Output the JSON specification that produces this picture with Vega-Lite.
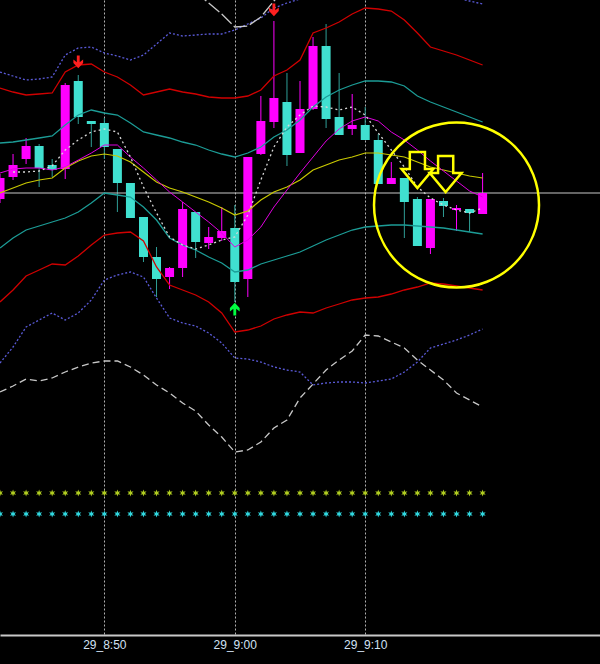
{
  "$schema": "https://vega.github.io/schema/vega-lite/v6.json",
  "width": 600,
  "height": 635,
  "autosize": {"type": "none"},
  "padding": {"left": 0, "top": 0, "right": 0, "bottom": 29},
  "background": "#000000",
  "config": {"view": {"stroke": null}},
  "datasets": {
    "candles": [
      {"t": "2024-01-29T08:42:00", "o": 436, "h": 461, "l": 432, "c": 457},
      {"t": "2024-01-29T08:43:00", "o": 458, "h": 481, "l": 455, "c": 470},
      {"t": "2024-01-29T08:44:00", "o": 476, "h": 497, "l": 471, "c": 489},
      {"t": "2024-01-29T08:45:00", "o": 489, "h": 491, "l": 448, "c": 467},
      {"t": "2024-01-29T08:46:00", "o": 470, "h": 476, "l": 458, "c": 465},
      {"t": "2024-01-29T08:47:00", "o": 466, "h": 552, "l": 456, "c": 550},
      {"t": "2024-01-29T08:48:00", "o": 554, "h": 560, "l": 511, "c": 518},
      {"t": "2024-01-29T08:49:00", "o": 514, "h": 514, "l": 488, "c": 511},
      {"t": "2024-01-29T08:50:00", "o": 512, "h": 517, "l": 476, "c": 488},
      {"t": "2024-01-29T08:51:00", "o": 486, "h": 486, "l": 423, "c": 452},
      {"t": "2024-01-29T08:52:00", "o": 452, "h": 452, "l": 417, "c": 417},
      {"t": "2024-01-29T08:53:00", "o": 418, "h": 418, "l": 373, "c": 378},
      {"t": "2024-01-29T08:54:00", "o": 378, "h": 388, "l": 338, "c": 356},
      {"t": "2024-01-29T08:55:00", "o": 358, "h": 368, "l": 346, "c": 367},
      {"t": "2024-01-29T08:56:00", "o": 367, "h": 433, "l": 358, "c": 426},
      {"t": "2024-01-29T08:57:00", "o": 423, "h": 423, "l": 377, "c": 393},
      {"t": "2024-01-29T08:58:00", "o": 392, "h": 408, "l": 386, "c": 398},
      {"t": "2024-01-29T08:59:00", "o": 397, "h": 428, "l": 394, "c": 404},
      {"t": "2024-01-29T09:00:00", "o": 407, "h": 430, "l": 333, "c": 353},
      {"t": "2024-01-29T09:01:00", "o": 356, "h": 478, "l": 338, "c": 478},
      {"t": "2024-01-29T09:02:00", "o": 481, "h": 539, "l": 480, "c": 514},
      {"t": "2024-01-29T09:03:00", "o": 513, "h": 614, "l": 507, "c": 537},
      {"t": "2024-01-29T09:04:00", "o": 533, "h": 562, "l": 469, "c": 480},
      {"t": "2024-01-29T09:05:00", "o": 482, "h": 554, "l": 482, "c": 526},
      {"t": "2024-01-29T09:06:00", "o": 526, "h": 598, "l": 525, "c": 589},
      {"t": "2024-01-29T09:07:00", "o": 589, "h": 611, "l": 507, "c": 516},
      {"t": "2024-01-29T09:08:00", "o": 518, "h": 562, "l": 500, "c": 500},
      {"t": "2024-01-29T09:09:00", "o": 506, "h": 541, "l": 500, "c": 510},
      {"t": "2024-01-29T09:10:00", "o": 510, "h": 528, "l": 495, "c": 495},
      {"t": "2024-01-29T09:11:00", "o": 495, "h": 501, "l": 451, "c": 451},
      {"t": "2024-01-29T09:12:00", "o": 451, "h": 473, "l": 451, "c": 457},
      {"t": "2024-01-29T09:13:00", "o": 457, "h": 457, "l": 397, "c": 433},
      {"t": "2024-01-29T09:14:00", "o": 436, "h": 438, "l": 389, "c": 389},
      {"t": "2024-01-29T09:15:00", "o": 387, "h": 436, "l": 381, "c": 436},
      {"t": "2024-01-29T09:16:00", "o": 434, "h": 437, "l": 418, "c": 429},
      {"t": "2024-01-29T09:17:00", "o": 425, "h": 430, "l": 404, "c": 427},
      {"t": "2024-01-29T09:18:00", "o": 426, "h": 426, "l": 403, "c": 422},
      {"t": "2024-01-29T09:19:00", "o": 421, "h": 462, "l": 421, "c": 442}
    ],
    "ind": [
      {"t": "2024-01-29T08:42:00", "ru": 547, "rl": 333, "tu": 492, "tl": 387, "ma": 462, "ya": 442, "bu": 563, "bl": 272, "dl": 243},
      {"t": "2024-01-29T08:43:00", "ru": 543, "rl": 345, "tu": 493, "tl": 397, "ma": 466, "ya": 447, "wd": 463, "bu": 559, "bl": 288, "dl": 249},
      {"t": "2024-01-29T08:44:00", "ru": 540, "rl": 359, "tu": 495, "tl": 405, "ma": 467, "ya": 452, "wd": 463, "bu": 555, "bl": 308, "dl": 256},
      {"t": "2024-01-29T08:45:00", "ru": 541, "rl": 365, "tu": 497, "tl": 409, "ma": 467, "ya": 455, "wd": 464, "bu": 556, "bl": 315, "dl": 254},
      {"t": "2024-01-29T08:46:00", "ru": 542, "rl": 371, "tu": 499, "tl": 413, "ma": 465, "ya": 457, "wd": 469, "bu": 558, "bl": 322, "dl": 257},
      {"t": "2024-01-29T08:47:00", "ru": 563, "rl": 370, "tu": 510, "tl": 417, "ma": 468, "ya": 467, "wd": 485, "bu": 580, "bl": 315, "dl": 263},
      {"t": "2024-01-29T08:48:00", "ru": 570, "rl": 379, "tu": 520, "tl": 423, "ma": 475, "ya": 474, "wd": 495, "bu": 587, "bl": 322, "dl": 268},
      {"t": "2024-01-29T08:49:00", "ru": 571, "rl": 390, "tu": 525, "tl": 432, "ma": 482, "ya": 479, "wd": 503, "bu": 588, "bl": 335, "dl": 272},
      {"t": "2024-01-29T08:50:00", "ru": 563, "rl": 400, "tu": 522, "tl": 442, "ma": 490, "ya": 481, "wd": 506, "bu": 582, "bl": 355, "dl": 274},
      {"t": "2024-01-29T08:51:00", "ru": 558, "rl": 402, "tu": 520, "tl": 440, "ma": 490, "ya": 479, "wd": 503, "bu": 579, "bl": 360, "dl": 274},
      {"t": "2024-01-29T08:52:00", "ru": 550, "rl": 403, "tu": 512, "tl": 438, "ma": 478, "ya": 473, "wd": 478, "bu": 575, "bl": 363, "dl": 268},
      {"t": "2024-01-29T08:53:00", "ru": 540, "rl": 394, "tu": 503, "tl": 428, "ma": 467, "ya": 463, "wd": 448, "bu": 580, "bl": 358, "dl": 260},
      {"t": "2024-01-29T08:54:00", "ru": 543, "rl": 368, "tu": 500, "tl": 415, "ma": 455, "ya": 453, "wd": 422, "bu": 591, "bl": 337, "dl": 250},
      {"t": "2024-01-29T08:55:00", "ru": 546, "rl": 350, "tu": 497, "tl": 397, "ma": 443, "ya": 447, "wd": 398, "bu": 602, "bl": 317, "dl": 242},
      {"t": "2024-01-29T08:56:00", "ru": 543, "rl": 345, "tu": 493, "tl": 390, "ma": 433, "ya": 443, "wd": 390, "bu": 599, "bl": 312, "dl": 232},
      {"t": "2024-01-29T08:57:00", "ru": 541, "rl": 340, "tu": 490, "tl": 385, "ma": 423, "ya": 438, "wd": 386, "bu": 600, "bl": 309, "dl": 224, "du": 643},
      {"t": "2024-01-29T08:58:00", "ru": 538, "rl": 333, "tu": 485, "tl": 378, "ma": 413, "ya": 433, "wd": 390, "bu": 601, "bl": 302, "dl": 210, "du": 632},
      {"t": "2024-01-29T08:59:00", "ru": 537, "rl": 322, "tu": 481, "tl": 372, "ma": 402, "ya": 427, "wd": 395, "bu": 601, "bl": 292, "dl": 198, "du": 621},
      {"t": "2024-01-29T09:00:00", "ru": 537, "rl": 303, "tu": 478, "tl": 363, "ma": 388, "ya": 420, "wd": 398, "bu": 605, "bl": 277, "dl": 183, "du": 608},
      {"t": "2024-01-29T09:01:00", "ru": 539, "rl": 305, "tu": 482, "tl": 365, "ma": 395, "ya": 424, "wd": 420, "bu": 611, "bl": 276, "dl": 185, "du": 609},
      {"t": "2024-01-29T09:02:00", "ru": 545, "rl": 309, "tu": 488, "tl": 371, "ma": 408, "ya": 435, "wd": 455, "bu": 617, "bl": 273, "dl": 193, "du": 618},
      {"t": "2024-01-29T09:03:00", "ru": 559, "rl": 316, "tu": 498, "tl": 375, "ma": 428, "ya": 443, "wd": 488, "bu": 627, "bl": 268, "dl": 207, "du": 634},
      {"t": "2024-01-29T09:04:00", "ru": 565, "rl": 320, "tu": 505, "tl": 379, "ma": 445, "ya": 448, "wd": 508, "bu": 632, "bl": 265, "dl": 215, "du": 648},
      {"t": "2024-01-29T09:05:00", "ru": 575, "rl": 323, "tu": 515, "tl": 383, "ma": 462, "ya": 455, "wd": 520, "bu": 636, "bl": 263, "dl": 237},
      {"t": "2024-01-29T09:06:00", "ru": 602, "rl": 322, "tu": 528, "tl": 389, "ma": 478, "ya": 465, "wd": 529, "bu": 648, "bl": 250, "dl": 251},
      {"t": "2024-01-29T09:07:00", "ru": 607, "rl": 327, "tu": 538, "tl": 395, "ma": 494, "ya": 470, "wd": 528, "bu": 659, "bl": 252, "dl": 265},
      {"t": "2024-01-29T09:08:00", "ru": 613, "rl": 331, "tu": 545, "tl": 400, "ma": 506, "ya": 475, "wd": 525, "bu": 665, "bl": 253, "dl": 275},
      {"t": "2024-01-29T09:09:00", "ru": 621, "rl": 335, "tu": 550, "tl": 405, "ma": 514, "ya": 478, "wd": 528, "bu": 670, "bl": 253, "dl": 284},
      {"t": "2024-01-29T09:10:00", "ru": 627, "rl": 337, "tu": 554, "tl": 408, "ma": 518, "ya": 482, "wd": 520, "bu": 673, "bl": 252, "dl": 300},
      {"t": "2024-01-29T09:11:00", "ru": 626, "rl": 338, "tu": 554, "tl": 409, "ma": 514, "ya": 482, "wd": 502, "bu": 673, "bl": 254, "dl": 299},
      {"t": "2024-01-29T09:12:00", "ru": 624, "rl": 341, "tu": 553, "tl": 410, "ma": 503, "ya": 480, "wd": 485, "bu": 670, "bl": 256, "dl": 293},
      {"t": "2024-01-29T09:13:00", "ru": 615, "rl": 345, "tu": 549, "tl": 410, "ma": 495, "ya": 478, "wd": 468, "bu": 663, "bl": 263, "dl": 287},
      {"t": "2024-01-29T09:14:00", "ru": 602, "rl": 348, "tu": 539, "tl": 409, "ma": 485, "ya": 473, "wd": 448, "bu": 655, "bl": 273, "dl": 275},
      {"t": "2024-01-29T09:15:00", "ru": 588, "rl": 352, "tu": 533, "tl": 408, "ma": 474, "ya": 468, "wd": 437, "bu": 648, "bl": 287, "dl": 265},
      {"t": "2024-01-29T09:16:00", "ru": 584, "rl": 351, "tu": 528, "tl": 407, "ma": 464, "ya": 465, "wd": 430, "bu": 642, "bl": 291, "dl": 255},
      {"t": "2024-01-29T09:17:00", "ru": 580, "rl": 349, "tu": 523, "tl": 405, "ma": 454, "ya": 462, "wd": 425, "bu": 637, "bl": 295, "dl": 242},
      {"t": "2024-01-29T09:18:00", "ru": 575, "rl": 347, "tu": 518, "tl": 403, "ma": 444, "ya": 459, "wd": 422, "bu": 634, "bl": 300, "dl": 235},
      {"t": "2024-01-29T09:19:00", "ru": 570, "rl": 345, "tu": 513, "tl": 401, "ma": 438, "ya": 457, "wd": 427, "bu": 631, "bl": 306, "dl": 228}
    ],
    "levels": [
      {"name": "current", "p": 442}
    ],
    "signals": [
      {"t": "2024-01-29T08:48:00", "p": 573, "dir": "sell"},
      {"t": "2024-01-29T09:03:00", "p": 625, "dir": "sell"},
      {"t": "2024-01-29T09:00:00", "p": 326, "dir": "buy"}
    ],
    "notes": [
      {"t": "2024-01-29T09:17:00", "p": 430}
    ],
    "pointers": [
      {"t": "2024-01-29T09:14:00", "p": 465},
      {"t": "2024-01-29T09:16:10", "p": 461}
    ]
  },
  "layer": [
    {
      "data": {"name": "candles"},
      "mark": {"type": "rule", "strokeWidth": 1},
      "encoding": {
        "x": {
          "field": "t",
          "type": "temporal",
          "scale": {
            "domain": [
              {"year": 2024, "month": 1, "date": 29, "hours": 8, "minutes": 42},
              {"year": 2024, "month": 1, "date": 29, "hours": 9, "minutes": 28}
            ],
            "nice": false,
            "padding": 0
          },
          "axis": {
            "orient": "bottom",
            "values": [
              {"year": 2024, "month": 1, "date": 29, "hours": 8, "minutes": 50},
              {"year": 2024, "month": 1, "date": 29, "hours": 9, "minutes": 0},
              {"year": 2024, "month": 1, "date": 29, "hours": 9, "minutes": 10}
            ],
            "title": null,
            "grid": true,
            "gridColor": "#b0b0b0",
            "gridDash": [2, 2],
            "gridWidth": 1,
            "ticks": false,
            "domain": true,
            "domainColor": "#c8c8c8",
            "domainWidth": 2,
            "labelColor": "#d2e2f4",
            "labelFont": "Liberation Sans",
            "labelFontSize": 12,
            "labelPadding": 4,
            "labelFlush": false,
            "labelExpr": "'29_' + timeFormat(datum.value, '%-H:%M')"
          }
        },
        "y": {"field": "l", "type": "quantitative", "scale": {"domain": [0, 635], "nice": false, "zero": false, "padding": 0}, "axis": null},
        "y2": {"field": "h"},
        "color": {"condition": {"test": "datum.c > datum.o", "value": "#ff00ff"}, "value": "#2f9e96"}
      }
    },
    {
      "data": {"name": "levels"},
      "mark": {"type": "rule", "color": "#c8c8c8", "strokeWidth": 1},
      "encoding": {"y": {"field": "p", "type": "quantitative"}}
    },
    {
      "data": {"name": "candles"},
      "mark": {"type": "bar", "size": 9},
      "encoding": {
        "x": {"field": "t", "type": "temporal"},
        "y": {"field": "o", "type": "quantitative"},
        "y2": {"field": "c"},
        "color": {"condition": {"test": "datum.c > datum.o", "value": "#ff00ff"}, "value": "#40e0d0"}
      }
    },
    {
      "data": {"name": "ind"},
      "mark": {"type": "line", "color": "#d00000", "strokeWidth": 1.3, "clip": true},
      "encoding": {"x": {"field": "t", "type": "temporal"}, "y": {"field": "ru", "type": "quantitative"}}
    },
    {
      "data": {"name": "ind"},
      "mark": {"type": "line", "color": "#d00000", "strokeWidth": 1.3, "clip": true},
      "encoding": {"x": {"field": "t", "type": "temporal"}, "y": {"field": "rl", "type": "quantitative"}}
    },
    {
      "data": {"name": "ind"},
      "mark": {"type": "line", "color": "#5a5ad8", "strokeWidth": 1.3, "strokeDash": [2, 2], "clip": true},
      "encoding": {"x": {"field": "t", "type": "temporal"}, "y": {"field": "bu", "type": "quantitative"}}
    },
    {
      "data": {"name": "ind"},
      "mark": {"type": "line", "color": "#5a5ad8", "strokeWidth": 1.3, "strokeDash": [2, 2], "clip": true},
      "encoding": {"x": {"field": "t", "type": "temporal"}, "y": {"field": "bl", "type": "quantitative"}}
    },
    {
      "data": {"name": "ind"},
      "mark": {"type": "line", "color": "#1c9c96", "strokeWidth": 1.3, "clip": true},
      "encoding": {"x": {"field": "t", "type": "temporal"}, "y": {"field": "tu", "type": "quantitative"}}
    },
    {
      "data": {"name": "ind"},
      "mark": {"type": "line", "color": "#1c9c96", "strokeWidth": 1.3, "clip": true},
      "encoding": {"x": {"field": "t", "type": "temporal"}, "y": {"field": "tl", "type": "quantitative"}}
    },
    {
      "data": {"name": "ind"},
      "mark": {"type": "line", "color": "#c8c800", "strokeWidth": 1.2, "clip": true},
      "encoding": {"x": {"field": "t", "type": "temporal"}, "y": {"field": "ya", "type": "quantitative"}}
    },
    {
      "data": {"name": "ind"},
      "mark": {"type": "line", "color": "#e000e0", "strokeWidth": 1, "clip": true},
      "encoding": {"x": {"field": "t", "type": "temporal"}, "y": {"field": "ma", "type": "quantitative"}}
    },
    {
      "data": {"name": "ind"},
      "mark": {"type": "line", "color": "#d8d8d8", "strokeWidth": 1.3, "strokeDash": [2, 3], "clip": true},
      "encoding": {"x": {"field": "t", "type": "temporal"}, "y": {"field": "wd", "type": "quantitative"}}
    },
    {
      "data": {"name": "ind"},
      "mark": {"type": "line", "color": "#c8c8c8", "strokeWidth": 1.3, "strokeDash": [7, 4], "clip": true},
      "encoding": {"x": {"field": "t", "type": "temporal"}, "y": {"field": "dl", "type": "quantitative"}}
    },
    {
      "data": {"name": "ind"},
      "mark": {"type": "line", "color": "#c8c8c8", "strokeWidth": 1.3, "strokeDash": [14, 3], "clip": true},
      "encoding": {"x": {"field": "t", "type": "temporal"}, "y": {"field": "du", "type": "quantitative"}}
    },
    {
      "data": {"name": "candles"},
      "mark": {"type": "point", "filled": true, "opacity": 1, "size": 49, "color": "#b0cc20",
        "shape": "M 0 -1 L 0.225 -0.39 L 0.866 -0.5 L 0.45 0 L 0.866 0.5 L 0.225 0.39 L 0 1 L -0.225 0.39 L -0.866 0.5 L -0.45 0 L -0.866 -0.5 L -0.225 -0.39 Z"},
      "encoding": {"x": {"field": "t", "type": "temporal"}, "y": {"datum": 142, "type": "quantitative"}}
    },
    {
      "data": {"name": "candles"},
      "mark": {"type": "point", "filled": true, "opacity": 1, "size": 49, "color": "#30d8e0",
        "shape": "M 0 -1 L 0.225 -0.39 L 0.866 -0.5 L 0.45 0 L 0.866 0.5 L 0.225 0.39 L 0 1 L -0.225 0.39 L -0.866 0.5 L -0.45 0 L -0.866 -0.5 L -0.225 -0.39 Z"},
      "encoding": {"x": {"field": "t", "type": "temporal"}, "y": {"datum": 121, "type": "quantitative"}}
    },
    {
      "data": {"name": "signals"},
      "transform": [{"filter": "datum.dir == 'sell'"}],
      "mark": {"type": "point", "filled": true, "opacity": 1, "size": 169, "color": "#ff2020",
        "shape": "M -0.22 -1 L 0.22 -1 L 0.22 0.05 L 0.75 -0.4 L 0.75 0.15 L 0 0.95 L -0.75 0.15 L -0.75 -0.4 L -0.22 0.05 Z"},
      "encoding": {"x": {"field": "t", "type": "temporal"}, "y": {"field": "p", "type": "quantitative"}}
    },
    {
      "data": {"name": "signals"},
      "transform": [{"filter": "datum.dir == 'buy'"}],
      "mark": {"type": "point", "filled": true, "opacity": 1, "size": 169, "color": "#00ff40",
        "shape": "M -0.22 1 L 0.22 1 L 0.22 -0.05 L 0.75 0.4 L 0.75 -0.15 L 0 -0.95 L -0.75 -0.15 L -0.75 0.4 L -0.22 -0.05 Z"},
      "encoding": {"x": {"field": "t", "type": "temporal"}, "y": {"field": "p", "type": "quantitative"}}
    },
    {
      "data": {"name": "notes"},
      "mark": {"type": "point", "shape": "circle", "filled": false, "opacity": 1, "size": 27225, "color": "#ffff00", "strokeWidth": 2.5},
      "encoding": {"x": {"field": "t", "type": "temporal"}, "y": {"field": "p", "type": "quantitative"}}
    },
    {
      "data": {"name": "pointers"},
      "mark": {"type": "point", "filled": false, "opacity": 1, "size": 1300, "color": "#ffff00", "strokeWidth": 2.5,
        "shape": "M -0.42 -1 L 0.42 -1 L 0.42 -0.05 L 0.88 -0.05 L 0 1 L -0.88 -0.05 L -0.42 -0.05 Z"},
      "encoding": {"x": {"field": "t", "type": "temporal"}, "y": {"field": "p", "type": "quantitative"}}
    }
  ]
}
